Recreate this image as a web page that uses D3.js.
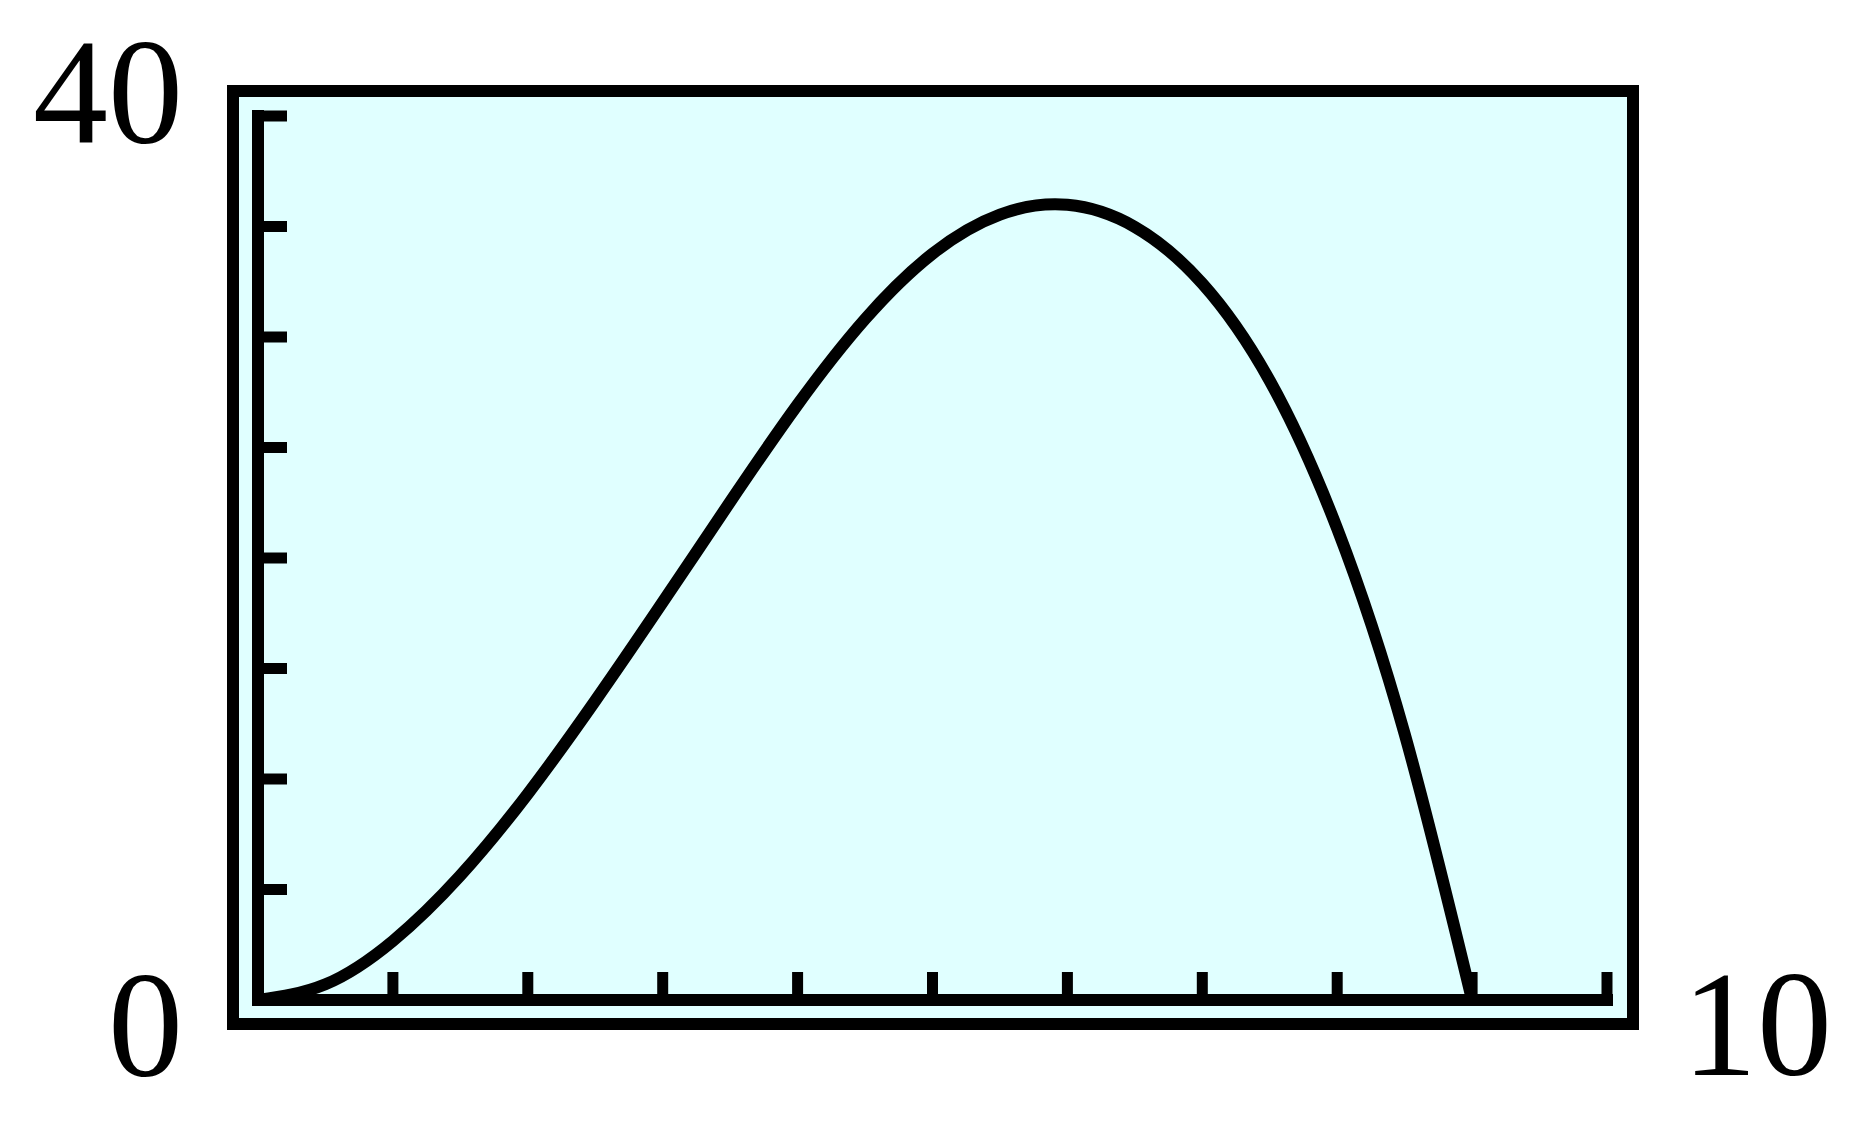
<!DOCTYPE html>
<html>
<head>
<meta charset="utf-8">
<script src="https://cdn.jsdelivr.net/npm/d3@7"></script>
<style>
  html, body { margin: 0; padding: 0; background: #ffffff; }
  svg { display: block; }
</style>
</head>
<body>
<svg id="chart" width="1860" height="1140"></svg>
<script>
// ---- data ----
const xValues = [0, 0.5, 1, 1.5, 2, 2.5, 3, 3.5, 4, 4.5, 5, 5.5, 6, 6.5, 7, 7.5, 8, 8.5, 9];
const yValues = [0, 0.71, 2.67, 5.63, 9.33, 13.54, 18.0, 22.54, 26.94, 30.81, 33.77, 35.54, 35.98, 34.98, 32.42, 28.02, 21.33, 12.04, 0];
const xTicks = [1, 2, 3, 4, 5, 6, 7, 8, 9, 10];
const yTicks = [5, 10, 15, 20, 25, 30, 35, 40];
const xDomain = [0, 10];
const yDomain = [0, 40];
const cornerLabels = ["40", "0", "10"];

const svg = d3.select("#chart");
const x = d3.scaleLinear().domain(xDomain).range([258, 1607]);
const y = d3.scaleLinear().domain(yDomain).range([1000, 116]);

const pad = 25;
// outer frame with light cyan fill
svg.append("rect")
  .attr("x", x(0) - pad)
  .attr("y", y(40) - pad)
  .attr("width", x(10) - x(0) + 2 * pad + 1)
  .attr("height", y(0) - y(40) + 2 * pad - 1)
  .attr("fill", "#e0ffff")
  .attr("stroke", "#000")
  .attr("stroke-width", 12);

const g = svg.append("g");

// y axis line
g.append("line")
  .attr("x1", x(0)).attr("x2", x(0))
  .attr("y1", y(40)).attr("y2", y(0))
  .attr("stroke", "#000").attr("stroke-width", 12)
  .attr("stroke-linecap", "square");
// x axis line
g.append("line")
  .attr("x1", x(0)).attr("x2", x(10))
  .attr("y1", y(0)).attr("y2", y(0))
  .attr("stroke", "#000").attr("stroke-width", 12)
  .attr("stroke-linecap", "square");

// y ticks
g.selectAll(".ytick").data(yTicks).enter().append("line")
  .attr("x1", x(0)).attr("x2", x(0) + 29)
  .attr("y1", d => y(d)).attr("y2", d => y(d))
  .attr("stroke", "#000").attr("stroke-width", 11);
// x ticks
g.selectAll(".xtick").data(xTicks).enter().append("line")
  .attr("x1", d => x(d)).attr("x2", d => x(d))
  .attr("y1", y(0)).attr("y2", y(0) - 28)
  .attr("stroke", "#000").attr("stroke-width", 11);

// curve
const pts = xValues.map((v, i) => [v, yValues[i]]);
g.append("path")
  .datum(pts)
  .attr("fill", "none")
  .attr("stroke", "#000")
  .attr("stroke-width", 12)
  .attr("stroke-linejoin", "round")
  .attr("d", d3.line().x(d => x(d[0])).y(d => y(d[1])).curve(d3.curveNatural));

// corner labels
const font = "'Liberation Serif', 'Times New Roman', serif";
svg.append("text").text(cornerLabels[0])
  .attr("x", 183).attr("y", 143)
  .attr("text-anchor", "end")
  .attr("font-family", font).attr("font-size", 150).attr("fill", "#000");
svg.append("text").text(cornerLabels[1])
  .attr("x", 183).attr("y", 1076)
  .attr("text-anchor", "end")
  .attr("font-family", font).attr("font-size", 150).attr("fill", "#000");
svg.append("text").text(cornerLabels[2])
  .attr("x", 1682).attr("y", 1075)
  .attr("text-anchor", "start")
  .attr("font-family", font).attr("font-size", 150).attr("fill", "#000");
</script>
</body>
</html>
